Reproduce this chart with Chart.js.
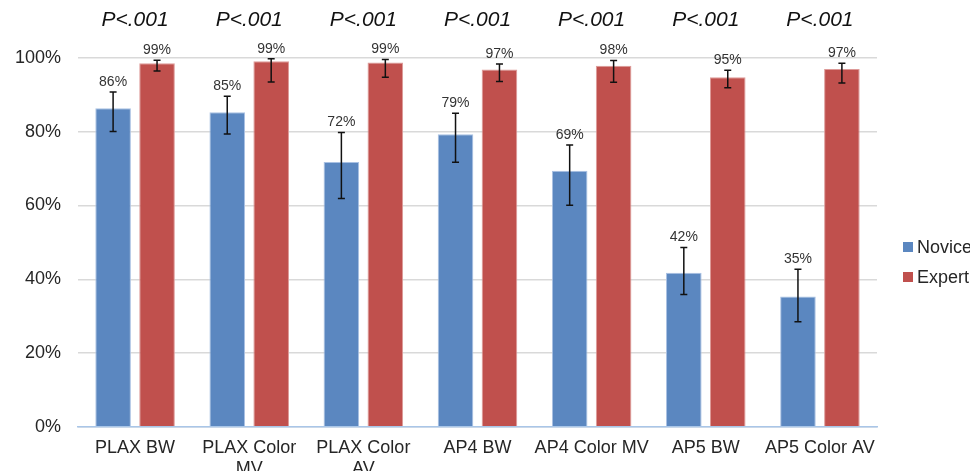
<!DOCTYPE html>
<html>
<head>
<meta charset="utf-8">
<script src="https://cdn.jsdelivr.net/npm/chart.js@4"></script>
<style>
  html, body { margin: 0; padding: 0; background: #fff; overflow: hidden; }
  #wrap { position: relative; width: 970px; height: 492px; }
  #legend { position: absolute; left: 903px; top: 232px; font-family: "Liberation Sans", Arial, sans-serif; font-size: 18px; color: #262626; white-space: nowrap; }
  .item { display: flex; align-items: center; height: 30px; }
  .box { width: 10px; height: 10px; margin-right: 4px; }
</style>
</head>
<body>
<div id="wrap">
  <canvas id="myChart" width="970" height="492"></canvas>
  <div id="legend"></div>
</div>
<script>
const categorias = [
  "PLAX BW",
  ["PLAX Color", "MV"],
  ["PLAX Color", "AV"],
  "AP4 BW",
  "AP4 Color MV",
  "AP5 BW",
  "AP5 Color AV",
];
const series = ["Novice", "Expert"];
const colores = ["#5b87c0", "#c0504d"];
const bordes = ["#a9c1e3", "#dd9a98"];

const novice = [86.4, 85.3, 71.8, 79.3, 69.4, 41.8, 35.3];
const noviceBajo = [80.1, 79.4, 61.9, 71.7, 60.1, 35.9, 28.5];
const noviceAlto = [90.8, 89.6, 79.8, 85.0, 76.4, 48.6, 42.7];

const expert = [98.6, 99.1, 98.8, 96.9, 97.9, 94.8, 97.0];
const expertBajo = [96.5, 93.5, 94.8, 93.6, 93.4, 91.9, 93.2];
const expertAlto = [99.4, 99.8, 99.6, 98.4, 99.3, 96.7, 98.6];

const pValores = ["P<.001", "P<.001", "P<.001", "P<.001", "P<.001", "P<.001", "P<.001"];
const yTicks = [0, 20, 40, 60, 80, 100];

const fuente = '"Liberation Sans", Arial, sans-serif';
const errores = [
  { bajo: noviceBajo, alto: noviceAlto },
  { bajo: expertBajo, alto: expertAlto },
];

// barras de error, etiquetas de porcentaje y valores P
const anotaciones = {
  id: "anotaciones",
  afterDatasetsDraw(chart) {
    const c = chart.ctx;
    const y = chart.scales.y;
    const x = chart.scales.x;
    c.save();
    chart.data.datasets.forEach((ds, i) => {
      const meta = chart.getDatasetMeta(i);
      meta.data.forEach((bar, j) => {
        const yAlto = y.getPixelForValue(errores[i].alto[j]);
        const yBajo = y.getPixelForValue(errores[i].bajo[j]);
        c.strokeStyle = "#111";
        c.lineWidth = 1.5;
        c.beginPath();
        c.moveTo(bar.x, yAlto);
        c.lineTo(bar.x, yBajo);
        c.moveTo(bar.x - 3.5, yAlto);
        c.lineTo(bar.x + 3.5, yAlto);
        c.moveTo(bar.x - 3.5, yBajo);
        c.lineTo(bar.x + 3.5, yBajo);
        c.stroke();

        c.fillStyle = "#333";
        c.font = "14px " + fuente;
        c.textAlign = "center";
        c.textBaseline = "middle";
        c.fillText(Math.round(ds.data[j]) + "%", bar.x, yAlto - 10);
      });
    });
    c.fillStyle = "#111";
    c.font = "italic 21px " + fuente;
    c.textAlign = "center";
    c.textBaseline = "middle";
    pValores.forEach((p, j) => {
      c.fillText(p, x.getPixelForValue(j), chart.chartArea.top - 38);
    });
    c.restore();
  },
};

const ctx = document.getElementById("myChart").getContext("2d");

const myChart = new Chart(ctx, {
  type: "bar",
  data: {
    labels: categorias,
    datasets: [
      {
        label: series[0],
        data: novice,
        backgroundColor: colores[0],
        borderColor: bordes[0],
        borderWidth: 1,
        categoryPercentage: 0.77,
        barPercentage: 0.81,
      },
      {
        label: series[1],
        data: expert,
        backgroundColor: colores[1],
        borderColor: bordes[1],
        borderWidth: 1,
        categoryPercentage: 0.77,
        barPercentage: 0.81,
      },
    ],
  },
  options: {
    responsive: false,
    animation: false,
    layout: {
      padding: { top: 58, left: 13, right: 93, bottom: 2 },
    },
    plugins: {
      legend: { display: false },
      tooltip: { enabled: false },
    },
    scales: {
      x: {
        grid: { display: false, drawTicks: false },
        border: { color: "#a9c6e8", width: 1.5 },
        ticks: {
          color: "#262626",
          padding: 10,
          maxRotation: 0,
          autoSkip: false,
          font: { family: fuente, size: 18 },
        },
      },
      y: {
        min: 0,
        max: 100,
        afterBuildTicks: (axis) => {
          axis.ticks = yTicks.map((v) => ({ value: v }));
        },
        afterFit: (axis) => {
          axis.width = 65;
        },
        grid: { color: "#d9d9d9", lineWidth: 1.5, drawTicks: false },
        border: { display: false },
        ticks: {
          color: "#262626",
          padding: 17,
          font: { family: fuente, size: 18 },
          callback: (v) => v + "%",
        },
      },
    },
  },
  plugins: [anotaciones],
});

const legend = document.getElementById("legend");
series.forEach((nombre, i) => {
  const item = document.createElement("div");
  item.className = "item";
  const box = document.createElement("span");
  box.className = "box";
  box.style.background = colores[i];
  const texto = document.createElement("span");
  texto.textContent = nombre;
  item.appendChild(box);
  item.appendChild(texto);
  legend.appendChild(item);
});
</script>
</body>
</html>
